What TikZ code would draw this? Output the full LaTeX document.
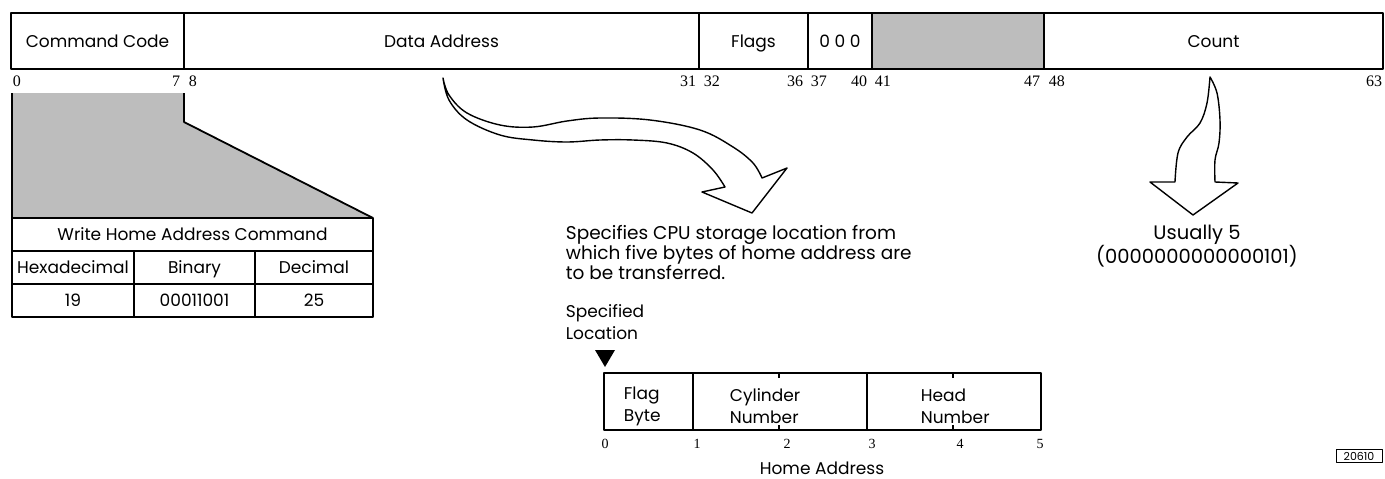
\documentclass[tikz,border=0pt]{standalone}
\usepackage{fontspec}
\usetikzlibrary{positioning}
\newfontfamily\gothic{Poppins}
\newfontfamily\bitserif{Liberation Serif}
\definecolor{stipple}{gray}{0.74}

\begin{document}
\begin{tikzpicture}[x=1pt, y=-1pt, line width=1.8pt, line join=round,
  field/.style={draw, minimum height=56pt, inner sep=0pt, text height=12pt, text depth=0pt,
    font=\gothic\fontsize{17}{20}\selectfont},
  cell/.style={draw, minimum height=33pt, inner sep=0pt, text height=12pt, text depth=1pt,
    font=\gothic\fontsize{17}{20}\selectfont},
  bytecell/.style={draw, line width=1.4pt, minimum height=57pt, inner sep=0pt},
  bitno/.style={font=\bitserif\fontsize{16}{16}\selectfont, inner sep=0pt},
  note/.style={font=\gothic\fontsize{17}{22}\selectfont, align=left, inner sep=0pt},
  bigarrow/.style={draw, line width=1.4pt, fill=white}]

\useasboundingbox (0,0) rectangle (1385,479);

% Command word, bits 0-63
\node[field, minimum width=173pt] (cmd)   at (97.5,41)  {Command Code};
\node[field, minimum width=515pt] (data)  at (441.5,41) {Data Address};
\node[field, minimum width=109pt] (flags) at (753.5,41) {Flags};
\node[field, minimum width=64pt]  (zeros) at (840,41)   {0 0 0};
\node[field, minimum width=172pt, fill=stipple] (resv) at (958,41) {};
\node[field, minimum width=339pt] (count) at (1213.5,41) {Count};

% bit numbers under the word
\foreach \bx/\bn/\ba in {12/0/west, 181/7/east, 188/8/west, 697/31/east, 703/32/west,
    804/36/east, 810/37/west, 868/40/east, 874/41/west, 1041/47/east, 1048/48/west, 1383/63/east}
  \node[bitno, anchor=base \ba] (bit\bn) at (\bx,86) {\bn};

% Shaded blow-up of the command code
\fill[stipple] (12,93) -- (184,93) -- (184,122) -- (373,218) -- (12,218) -- cycle;
\draw (12,93) -- (12,218);
\draw (184,93) -- (184,122) -- (373,218);

% Write Home Address table
\node[cell, minimum width=361pt] (title) at (192.5,234.5) {Write Home Address Command};
\node[cell, minimum width=122pt] (hexhd) at (73,267.5)  {Hexadecimal};
\node[cell, minimum width=121pt] (binhd) at (194.5,267.5) {Binary};
\node[cell, minimum width=118pt] (dechd) at (314,267.5) {Decimal};
\node[cell, minimum width=122pt] (hexval) at (73,300.5)  {19};
\node[cell, minimum width=121pt] (binval) at (194.5,300.5) {00011001};
\node[cell, minimum width=118pt] (decval) at (314,300.5) {25};

% Arrow from the data address down to its note
\draw[bigarrow] plot[smooth, tension=0.6] coordinates {(443,78) (449,95) (467,113) (500,125)
    (533,127) (567,121) (600,118) (650,120) (700,130) (733,147) (753,163) (762,178)}
  -- (787,168) -- (752,213) -- (702,192)
  -- plot[smooth, tension=0.6] coordinates {(725,187) (713,170) (693,153) (667,143) (633,140)
    (600,140) (567,142) (533,140) (500,135) (467,120) (449,100) (443,78)} -- cycle;

\node[note, anchor=north west, font=\gothic\fontsize{18.5}{18}\selectfont] (addrnote) at (565,224)
  {Specifies CPU storage location from\\which five bytes of home address are\\to be transferred.};

% Arrow from the count down to its note
\draw[bigarrow] plot[smooth, tension=0.6] coordinates {(1210,77) (1217,93) (1220,120)
    (1219,143) (1215,160) (1215,182)}
  -- (1238,183) -- (1193,215) -- (1150,182)
  -- plot[smooth, tension=0.6] coordinates {(1175,182) (1178,153) (1187,137) (1200,123)
    (1207,103) (1210,77)} -- cycle;

\node[note, align=center, anchor=north, font=\gothic\fontsize{19.5}{17}\selectfont] (countnote) at (1197,224)
  {Usually 5\\(0000000000000101)};

% Home address layout
\node[note, anchor=north west] (specloc) at (565,304) {Specified\\Location};
\fill (595,350) -- (615,350) -- (605,367) -- cycle;

\node[bytecell, minimum width=89pt]  (flagbyte) at (648.5,401.5) {};
\node[bytecell, minimum width=174pt] (cylnum)   at (780,401.5)   {};
\node[bytecell, minimum width=174pt] (headnum)  at (954,401.5)   {};
\draw[line width=1.2pt] (779,373) -- (779,378) (779,425) -- (779,430);
\draw[line width=1.2pt] (953,373) -- (953,378) (953,425) -- (953,430);

\node[note, anchor=west] (flagtxt) at (623,406) {Flag\\Byte};
\node[note, anchor=west] (cyltxt)  at (729,406) {Cylinder\\Number};
\node[note, anchor=west] (headtxt) at (920,406) {Head\\Number};

\foreach \bx/\bn in {605/0, 697/1, 787/2, 872/3, 960/4, 1040/5}
  \node[bitno, font=\bitserif\fontsize{14}{14}\selectfont, anchor=base] (byte\bn) at (\bx,448) {\bn};

\node[note, anchor=base] (hatitle) at (822,474) {Home Address};

% figure number
\node[draw, line width=0.9pt, inner sep=2pt, minimum width=46pt, font=\gothic\fontsize{11}{11}\selectfont]
  (fignum) at (1359,456) {20610};

\end{tikzpicture}
\end{document}
